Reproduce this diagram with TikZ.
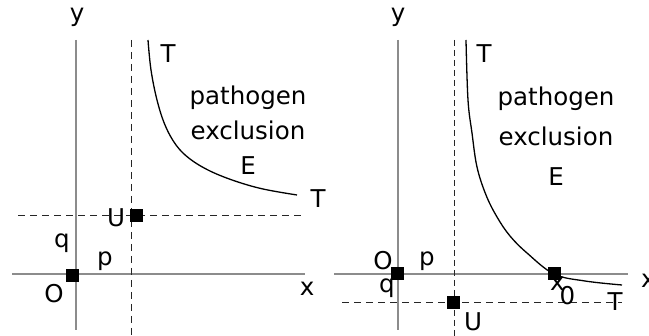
\documentclass[tikz,border=0pt]{standalone}
\usepackage{fontspec}
\setmainfont{DejaVu Sans}
\begin{document}
\begin{tikzpicture}[x=1pt,y=-1pt,
  axis/.style={draw=black!45,line width=1.1pt},
  guide/.style={draw=black!85,line width=1pt,dash pattern=on 7pt off 5pt},
  curve/.style={draw=black,line width=1.3pt},
  sq/.style={fill=black,minimum size=13pt,inner sep=0pt},
  lab/.style={font=\fontsize{24.5}{27}\selectfont,inner sep=0pt,text=black},
  reg/.style={font=\fontsize{24.5}{35}\selectfont,inner sep=0pt,align=center}]
\useasboundingbox (0,0) rectangle (649,336);
% ---------- left panel ----------
\coordinate (ly1) at (76,40);  \coordinate (ly2) at (76,330);
\coordinate (lx1) at (12,274); \coordinate (lx2) at (305,274);
\coordinate (lv1) at (131,40); \coordinate (lv2) at (131,336);
\coordinate (lh1) at (18,216); \coordinate (lh2) at (302,216);
\draw[axis] (ly1) -- (ly2);
\draw[axis] (lx1) -- (lx2);
\draw[guide] (lv1) -- (lv2);
\draw[guide] (lh1) -- (lh2);
\draw[curve] plot[smooth,tension=0.6] coordinates {(148,40) (151,70) (157,100) (165,125) (176,145) (190,159) (210,171) (235,181) (263,189) (297,195)};
\node[sq] (lO) at (72,276) {};
\node[sq] (lU) at (136,216) {};
\node[lab] (ly) at (77,17) {y};
\node[lab] (lx) at (307,289) {x};
\node[lab] (lOl) at (54,294) {O};
\node[lab] (lq) at (62,243) {q};
\node[lab] (lp) at (105,261) {p};
\node[lab] (lUl) at (116,218) {U};
\node[lab] (lT1) at (168,54) {T};
\node[lab] (lT2) at (318,199) {T};
\node[reg] (lE) at (248,130) {pathogen\\exclusion\\E};
% ---------- right panel ----------
\coordinate (ry1) at (398,40);  \coordinate (ry2) at (398,330);
\coordinate (rx1) at (334,274); \coordinate (rx2) at (628,274);
\coordinate (rv1) at (454,40);  \coordinate (rv2) at (454,336);
\coordinate (rh1) at (342,303); \coordinate (rh2) at (622,303);
\draw[axis] (ry1) -- (ry2);
\draw[axis] (rx1) -- (rx2);
\draw[guide,dash pattern=on 6pt off 4pt] (rv1) -- (rv2);
\draw[guide] (rh1) -- (rh2);
\draw[curve] plot[smooth,tension=0.6] coordinates {(466,40) (468,100) (472,133) (477,167) (486,195) (497,217) (510,236) (527,253) (554,274) (585,281) (622,285)};
\node[sq] (rO) at (397,274) {};
\node[sq] (rU) at (453,303) {};
\node[sq] (rX) at (554,274) {};
\node[lab] (ry) at (398,17) {y};
\node[lab,anchor=west] (rx) at (641,281) {x};
\node[lab] (rOl) at (383,261) {O};
\node[lab] (rp) at (427,261) {p};
\node[lab] (rq) at (387,288) {q};
\node[lab] (rUl) at (473,322) {U};
\node[lab,anchor=base west] (rx0) at (550,291) {x\kern-5pt\raisebox{-14pt}{0}};
\node[lab] (rT1) at (484,54) {T};
\node[lab] (rT2) at (615,302) {T};
\node[reg,font=\fontsize{24.5}{40}\selectfont] (rE) at (556,136) {pathogen\\exclusion\\E};
\end{tikzpicture}
\end{document}
